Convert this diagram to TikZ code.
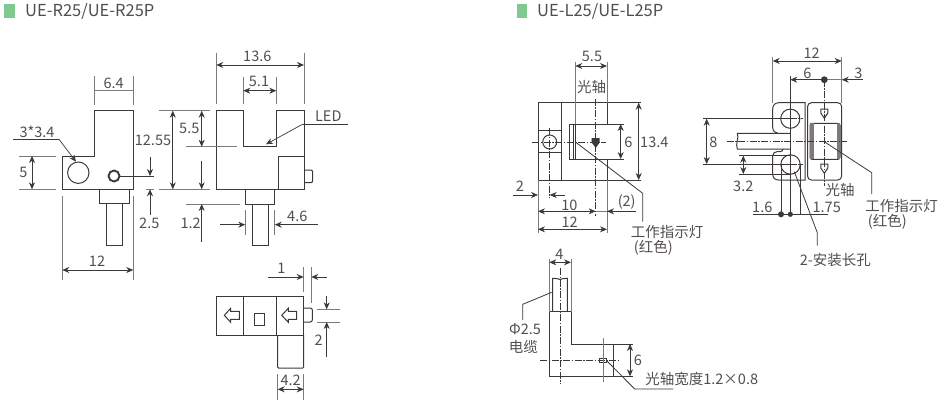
\documentclass[tikz,border=0pt]{standalone}
\usepackage{fontspec}
\setmainfont{Noto Sans CJK SC}
\usetikzlibrary{arrows.meta}
\definecolor{inkline}{HTML}{3C3836}
\definecolor{extline}{HTML}{7F7A78}
\definecolor{inktext}{HTML}{524E4D}
\definecolor{tagfill}{HTML}{7FCB8F}
\begin{document}
\begin{tikzpicture}[
    x=1pt, y=-1pt,
    % Define styles
    part/.style={
        draw=inkline,
        line width=1pt
    },
    extend/.style={
        draw=extline,
        line width=0.8pt
    },
    arrow/.style={
        draw=inkline,
        line width=0.7pt,
        -{Stealth[length=7pt,width=6pt]}
    },
    dimen/.style={
        draw=inkline,
        line width=0.7pt,
        {Stealth[length=7pt,width=6pt]}-{Stealth[length=7pt,width=6pt]}
    },
    leader/.style={
        draw=inkline,
        line width=0.8pt
    },
    axis/.style={
        draw=inkline,
        line width=0.7pt,
        dash pattern=on 7pt off 1.5pt on 1.5pt off 1.5pt
    },
    label/.style={
        font=\fontsize{14.5}{16}\selectfont,
        text=inktext,
        inner sep=0pt
    },
    heading/.style={
        font=\fontsize{16.5}{18}\selectfont,
        text=inktext,
        inner sep=0pt,
        anchor=west
    },
    tag/.style={
        fill=tagfill,
        draw=none
    }
]

\useasboundingbox (0,0) rectangle (947,416);

% Headings
\fill[tag] (4,4) rectangle (15,18);
\node[heading] (titleR) at (25,11) {UE-R25/UE-R25P};
\fill[tag] (517,4) rectangle (527,18);
\node[heading] (titleL) at (537,11) {UE-L25/UE-L25P};

% R side view
\draw[part] (62.3,156) -- (94.3,156) -- (94.3,110.7) -- (133.3,110.7) -- (133.3,189.3) -- (62.3,189.3) -- cycle;
\draw[part] (78.3,172.7) circle (10.7);
\draw[part, line width=1.9pt] (114,176) circle (5.5);
\draw[part] (99.3,189.3) -- (99.3,203) -- (129,203) -- (129,189.3);
\draw[part] (106,203) -- (106,245.7) -- (122.3,245.7) -- (122.3,203);

\draw[extend] (94.3,76) -- (94.3,104.7);
\draw[extend] (133.3,76) -- (133.3,104.7);
\draw[extend] (94.3,90.7) -- (133.3,90.7);
\node[label] (widthA) at (113.7,83) {6.4};

\draw[extend] (159,110.7) -- (210,110.7);
\draw[extend] (159,189.3) -- (210,189.3);
\draw[dimen] (172.8,110.7) -- (172.8,189.3);
\node[label] (heightA) at (153,140) {12.55};

\draw[leader] (13,139.3) -- (59,139.3);
\draw[arrow] (59,139.3) -- (76,161.7);
\node[label] (holeA) at (37,132) {3*3.4};

\draw[extend] (19,156) -- (55.7,156);
\draw[extend] (19,189.3) -- (55.7,189.3);
\draw[dimen] (32,156) -- (32,189.3);
\node[label] (heightB) at (23.3,172.7) {5};

\draw[leader] (119.5,176) -- (154,176);
\draw[extend] (146,189.3) -- (154,189.3);
\draw[arrow] (150,156.7) -- (150,176);
\draw[arrow] (150,215) -- (150,189.3);
\node[label] (ledA) at (149.3,223.3) {2.5};

\draw[extend] (62.3,195.7) -- (62.3,280);
\draw[extend] (133.3,195.7) -- (133.3,280);
\draw[dimen] (62.3,270) -- (133.3,270);
\node[label] (widthB) at (97,261.3) {12};

% R front view
\draw[part] (216,110.7) -- (243.3,110.7) -- (243.3,146.7) -- (276.3,146.7) -- (276.3,110.7) -- (304,110.7) -- (304,189.3) -- (216,189.3) -- cycle;
\draw[part] (278,189.3) -- (278,156.7) -- (304,156.7);
\draw[part, rounded corners=2pt] (304,170) -- (312.7,170) -- (312.7,182.7) -- (304,182.7);
\draw[part] (245.7,189.3) -- (245.7,204) -- (274.7,204) -- (274.7,189.3);
\draw[part] (252,204) -- (252,245.7) -- (268.3,245.7) -- (268.3,204);

\draw[extend] (216.3,52.7) -- (216.3,104.3);
\draw[extend] (304,52.7) -- (304,104.3);
\draw[dimen] (216.3,65) -- (304,65);
\node[label] (widthC) at (257.3,56.7) {13.6};

\draw[extend] (243.3,77.3) -- (243.3,104.3);
\draw[extend] (276.3,77.3) -- (276.3,104.3);
\draw[dimen] (243.3,90.7) -- (276.3,90.7);
\node[label] (widthD) at (259,81.3) {5.1};

\draw[leader] (348.3,124.7) -- (301.7,124.7);
\draw[arrow] (301.7,124.7) -- (266,144.3);
\node[label] (ledB) at (328.3,116) {LED};

\draw[extend] (186,146.7) -- (237.3,146.7);
\draw[dimen] (201.7,110.7) -- (201.7,146.7);
\node[label] (heightC) at (189.3,128) {5.5};

\draw[extend] (186,204) -- (240,204);
\draw[arrow] (201.7,160.7) -- (201.7,189.3);
\draw[arrow] (201.7,241.7) -- (201.7,204);
\node[label] (heightD) at (190.7,223.3) {1.2};

\draw[extend] (245.3,210) -- (245.3,235);
\draw[extend] (274.7,210) -- (274.7,235);
\draw[arrow] (220,224.7) -- (245.3,224.7);
\draw[arrow] (318,224.7) -- (274.7,224.7);
\node[label] (widthE) at (297.3,216) {4.6};

% R top view
\draw[part] (216,296) rectangle (303.7,335);
\draw[part] (243.7,296) -- (243.7,335);
\draw[part] (276.3,296) -- (276.3,335);
\draw[part, rounded corners=1pt] (277.7,335) -- (277.7,368) -- (303.7,368) -- (303.7,335);
\draw[part, rounded corners=2pt] (303.7,308) -- (312.3,308) -- (312.3,322) -- (303.7,322);
\draw[part] (254,313.7) rectangle (264.3,325.3);
\draw[part] (224.3,315.3) -- (230.7,308.3) -- (230.7,311.3) -- (239.3,311.3) -- (239.3,319.3) -- (230.7,319.3) -- (230.7,322.3) -- cycle;
\draw[part] (281.7,315.3) -- (288.3,308.3) -- (288.3,311.3) -- (296.7,311.3) -- (296.7,319.3) -- (288.3,319.3) -- (288.3,322.3) -- cycle;

\draw[extend] (303.7,267.3) -- (303.7,292);
\draw[extend] (311.3,267.3) -- (311.3,303.3);
\draw[arrow] (267.7,277) -- (303.7,277);
\draw[arrow] (327,277) -- (311.3,277);
\node[label] (nubA) at (281.3,268.3) {1};

\draw[extend] (316.7,309.3) -- (340,309.3);
\draw[extend] (316.7,322) -- (340,322);
\draw[arrow] (326.7,295.7) -- (326.7,309.3);
\draw[arrow] (326.7,356.7) -- (326.7,322);
\node[label] (nubB) at (318.7,340.7) {2};

\draw[extend] (277.7,374.3) -- (277.7,400);
\draw[extend] (303.7,374.3) -- (303.7,400);
\draw[dimen] (277.7,389.3) -- (303.7,389.3);
\node[label] (widthF) at (290.7,380.7) {4.2};

% L side view
\draw[part] (607,124) -- (607,102.7) -- (538,102.7) -- (538,180) -- (607,180) -- (607,159);
\draw[part] (561.3,102.7) -- (561.3,180);
\draw[part] (538,130.7) -- (561.3,130.7);
\draw[part] (538,152.3) -- (561.3,152.3);
\draw[part] (549.7,142) circle (7);
\draw[part] (569.3,124) rectangle (575.3,159);
\draw[part] (573.3,124) -- (573.3,159);
\draw[part] (575.3,124) -- (624,124);
\draw[part] (575.3,159) -- (624,159);
\draw[part] (607,102.7) -- (641.3,102.7);
\draw[part] (607,180) -- (641.3,180);
\fill[inkline] (591.7,138) -- (599.7,138) -- (599.7,142.5) -- (595.7,148) -- (591.7,142.5) -- cycle;

\draw[axis] (532.3,142) -- (606,142);
\draw[axis] (549.7,128.3) -- (549.7,198.3);
\draw[axis] (595.7,98.7) -- (595.7,215.7);

\draw[extend] (575.3,61.7) -- (575.3,124);
\draw[extend] (607,61.7) -- (607,102.7);
\draw[dimen] (575.3,66) -- (607,66);
\node[label] (widthG) at (592,56.7) {5.5};
\node[label] (axisA) at (591.7,86.7) {光轴};

\draw[dimen] (638.7,102.7) -- (638.7,180);
\node[label] (heightE) at (654.3,142.7) {13.4};
\draw[dimen] (620.7,124) -- (620.7,159);
\node[label] (heightF) at (628.3,142.7) {6};

\draw[leader] (575,141.7) -- (642.7,193.3) -- (642.7,221.7);
\node[label] (ledC) at (667,231.7) {工作指示灯};
\node[label] (ledD) at (653.3,248.3) {(红色)};

\draw[arrow] (512.7,195) -- (538,195);
\draw[arrow] (565,195) -- (549.7,195);
\node[label] (edgeA) at (520,186) {2};

\draw[extend] (538,180) -- (538,233.3);
\draw[extend] (607,180) -- (607,233.3);
\draw[dimen] (538,211.3) -- (595.7,211.3);
\draw[extend] (595.7,211.3) -- (607,211.3);
\draw[arrow] (636,211.3) -- (607,211.3);
\node[label] (widthH) at (569.3,205) {10};
\node[label] (widthI) at (626.7,202.3) {(2)};
\draw[dimen] (538,229.3) -- (607,229.3);
\node[label] (widthJ) at (569.7,222.7) {12};

% L front view
\draw[part] (779,102.7) -- (805,102.7) -- (805,180) -- (779,180) .. controls (775,180) and (772.7,178) .. (772.7,174) -- (772.7,156) .. controls (772.7,153) and (775,151.7) .. (777,151.7) -- (780,151.7) .. controls (782,151.7) and (783,150.5) .. (783,149);
\draw[part] (779,102.7) .. controls (775,102.7) and (772.7,105) .. (772.7,109) -- (772.7,127) .. controls (772.7,131) and (775,133.3) .. (778,133.3);
\draw[part, rounded corners=4pt] (807.5,102.7) rectangle (841.7,180);
\draw[part, rounded corners=2pt] (810,123.3) rectangle (840,159.3);
\fill[extline] (810,123.3) rectangle (813.5,159.3);
\fill[extline] (836.5,123.3) rectangle (840,159.3);
\draw[part] (790.3,118.7) circle (9.6);
\draw[part] (790.5,164.5) circle (9.7);
\draw[part] (790,133.3) -- (737.3,133.3) .. controls (739.5,138) and (735,144) .. (737.3,149) -- (790,149);
\draw[part] (820.8,109) -- (827.8,109) -- (827.8,113) -- (824.3,118.3) -- (820.8,113) -- cycle;
\draw[part] (820.8,164) -- (827.8,164) -- (827.8,168) -- (824.3,173.3) -- (820.8,168) -- cycle;

\draw[axis] (726.7,141.7) -- (846.7,141.7);
\draw[axis] (824.3,79.7) -- (824.3,186);
\draw[axis] (778,118.7) -- (803,118.7);
\draw[axis] (778,164.5) -- (803,164.5);

\draw[extend] (772.7,57.3) -- (772.7,103.3);
\draw[extend] (841.7,57.3) -- (841.7,103.3);
\draw[dimen] (772.7,61) -- (841.7,61);
\node[label] (widthK) at (811.7,53.3) {12};

\draw[leader] (790.3,76) -- (790.3,214.3);
\draw[arrow] (824.3,79.7) -- (790.3,79.7);
\draw[arrow] (863.3,79.7) -- (841.7,79.7);
\draw[extend] (824.3,79.7) -- (841.7,79.7);
\fill[inkline] (824.3,79.7) circle (3.4);
\node[label] (widthL) at (807.3,73.3) {6};
\node[label] (widthM) at (858.3,73.3) {3};

\draw[leader] (703.3,118.7) -- (790.3,118.7);
\draw[leader] (703.3,164) -- (790.3,164);
\draw[dimen] (706.7,118.7) -- (706.7,164);
\node[label] (pitchA) at (713.3,142) {8};

\draw[leader] (739.3,155.7) -- (790.3,155.7);
\draw[leader] (739.3,174) -- (790.3,174);
\draw[dimen] (743.3,155.7) -- (743.3,174);
\node[label] (slotA) at (743.3,186.7) {3.2};

\draw[leader] (781,164) -- (781,214.3);
\draw[leader] (800.3,164) -- (800.3,214.3);
\draw[leader] (753.3,214.3) -- (828.3,214.3);
\fill[inkline] (781,214.3) circle (3);
\fill[inkline] (790.3,214.3) circle (2.6);
\node[label] (slotB) at (762.3,207.7) {1.6};
\node[label] (slotC) at (826.7,207.7) {1.75};
\node[label] (axisB) at (840,189.7) {光轴};

\draw[leader] (824.3,141.7) -- (871.7,172.7) -- (871.7,194);
\node[label] (ledE) at (901.7,205.7) {工作指示灯};
\node[label] (ledF) at (887.3,222.3) {(红色)};

\draw[leader] (794.3,171.7) -- (817.3,232.7) -- (817.3,245.7);
\node[label] (slotD) at (835.3,260) {2-安装长孔};

% L top view
\draw[part] (549.3,311.7) -- (549.3,376.3) -- (613.3,376.3) -- (613.3,344) -- (571,344) -- (571,311.7) -- cycle;
\draw[part] (613.3,344) -- (633.3,344);
\draw[part] (613.3,376.3) -- (633.3,376.3);
\draw[part] (552.7,311.7) -- (552.7,278.3) .. controls (556,277) and (558,280) .. (560,279.5) .. controls (562,279) and (564,278) .. (567.3,278.3) -- (567.3,311.7);
\draw[part] (599.3,358.3) rectangle (606.7,362.7);

\draw[extend] (549.3,259.3) -- (549.3,311.7);
\draw[extend] (571,259.3) -- (571,311.7);
\draw[dimen] (549.3,262.3) -- (571,262.3);
\node[label] (widthN) at (559.3,254) {4};

\draw[axis] (560,268.3) -- (560,384);
\draw[axis] (540,360.7) -- (619.3,360.7);
\draw[extend] (603.3,338.3) -- (603.3,381.7);

\draw[dimen] (630,344) -- (630,376.3);
\node[label] (heightG) at (638,360.7) {6};

\draw[leader] (606.7,360.7) -- (634.7,389) -- (673.3,389);
\node[label] (axisC) at (701.7,379.3) {光轴宽度1.2×0.8};

\draw[leader] (551.7,292.3) -- (522.7,304.3) -- (522.7,320);
\node[label] (cableA) at (525,329.3) {Φ2.5};
\node[label] (cableB) at (523.3,346.7) {电缆};

\end{tikzpicture}
\end{document}
